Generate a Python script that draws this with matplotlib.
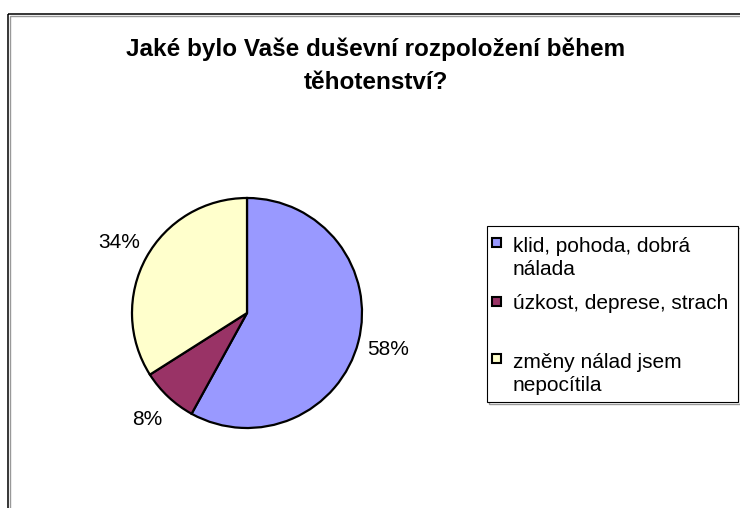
import matplotlib
matplotlib.use("Agg")
import matplotlib.pyplot as plt
from matplotlib.patches import Rectangle

plt.rcParams['font.family'] = ['Liberation Sans', 'DejaVu Sans']

# survey answers, share in percent
labels = ['klid, pohoda, dobrá\nnálada', 'úzkost, deprese, strach', 'změny nálad jsem\nnepocítila']
shares = [58, 8, 34]
colors = ['#9999FF', '#993366', '#FFFFCC']
title_lines = ['Jaké bylo Vaše duševní rozpoložení během', 'těhotenství?']

W, H = 740, 508
fig = plt.figure(figsize=(W / 100, H / 100), dpi=100)

# overlay in pixel coordinates for frame, title and legend
bg = fig.add_axes([0, 0, 1, 1])
bg.set_xlim(0, W)
bg.set_ylim(H, 0)
bg.axis('off')

# chart frame (cut off at right and bottom)
bg.add_patch(Rectangle((9.5, 15.5), 800, 600, fill=False, edgecolor='#999999', lw=1.0))
bg.add_patch(Rectangle((8, 14), 800, 600, fill=False, edgecolor='black', lw=1.1))

# title
bg.text(376, 56, title_lines[0], ha='center', va='baseline', fontsize=17.5, fontweight='bold')
bg.text(376, 89, title_lines[1], ha='center', va='baseline', fontsize=17.5, fontweight='bold')

# pie
cx, cy, r = 247, 313, 115
side = 3 * r
ax = fig.add_axes([(cx - side / 2) / W, (H - cy - side / 2) / H, side / W, side / H])
wedges, _, autotexts = ax.pie(shares, colors=colors, startangle=90, counterclock=False,
                              autopct='%1.0f%%', pctdistance=1.27,
                              wedgeprops=dict(edgecolor='black', linewidth=1.6),
                              textprops=dict(fontsize=15))
ax.set_xlim(-1.5, 1.5)
ax.set_ylim(-1.5, 1.5)
ax.set_aspect('equal')

# legend box
bg.add_patch(Rectangle((488.5, 227.5), 251, 176, fill=False, edgecolor='#999999', lw=1.0))
bg.add_patch(Rectangle((487, 226), 251, 176, facecolor='white', edgecolor='black', lw=0.8))
first_baselines = [252, 309, 368]
marker_y = [242.5, 301, 358.5]
line_gap = 23.3
for lab, col, yb, ym in zip(labels, colors, first_baselines, marker_y):
    bg.add_patch(Rectangle((491.5, ym - 4.5), 9, 9, facecolor=col, edgecolor='black', lw=1.5))
    for i, line in enumerate(lab.split('\n')):
        bg.text(513, yb + i * line_gap, line, ha='left', va='baseline', fontsize=15)

fig.savefig('out.png', dpi=100)
